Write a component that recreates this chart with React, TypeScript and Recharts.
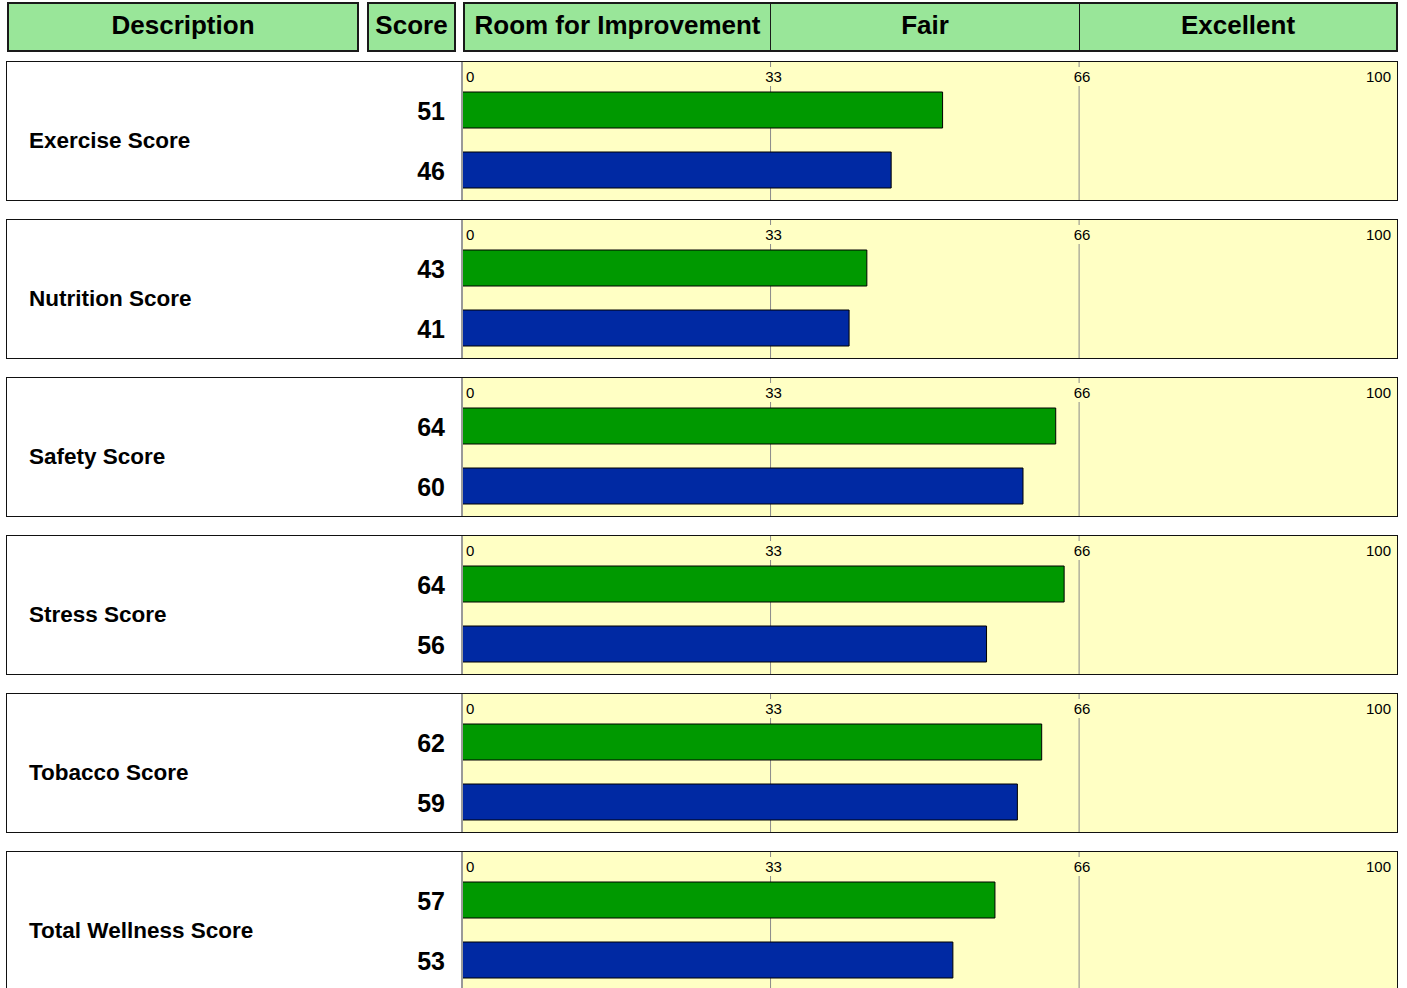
import { BarChart, Bar, XAxis, YAxis, Cell, CartesianGrid } from "recharts";

// panel rows
const CATEGORIES = [
  "Exercise Score",
  "Nutrition Score",
  "Safety Score",
  "Stress Score",
  "Tobacco Score",
  "Total Wellness Score",
];
// bar lengths
const GREEN_VALUES = [51.4, 43.3, 63.5, 64.4, 62.0, 57.0];
const BLUE_VALUES = [45.9, 41.4, 60.0, 56.1, 59.4, 52.5];
// printed scores
const GREEN_SCORES = ["51", "43", "64", "64", "62", "57"];
const BLUE_SCORES = ["46", "41", "60", "56", "59", "53"];

const X_TICKS = [0, 33, 66, 100];
const GRID_VALUES = [33, 66];
const BANDS = ["Room for Improvement", "Fair", "Excellent"];

const FONT = '"Liberation Sans", Arial, Helvetica, sans-serif';
const GREEN = "#009900";
const BLUE = "#0029a3";
const PLOT_BG = "#ffffc4";
const HEADER_BG = "#99e699";
const GRID = "#8a8a8a";

const CHART_W = 1390;
const CHART_H = 138;
const AXIS_W = 455;
const TOP_H = 18;
const PANEL_TOPS = [61, 219, 377, 535, 693, 851];

function TopTick(props: any) {
  const { x, payload } = props;
  const v = payload.value;
  let anchor = "middle";
  let tx = x + 3;
  if (v === 0) {
    anchor = "start";
    tx = x + 4;
  }
  if (v === 100) {
    anchor = "end";
    tx = x - 6;
  }
  return (
    <g>
      {v === 33 || v === 66 ? (
        <line x1={x} x2={x} y1={0} y2={5} stroke={GRID} />
      ) : null}
      {v === 0 ? (
        <line x1={x} x2={x} y1={0} y2={TOP_H} stroke="#999" strokeWidth={2} />
      ) : null}
      <text x={tx} y={20} textAnchor={anchor} fontSize={15} fontFamily={FONT} fill="#000">
        {v}
      </text>
    </g>
  );
}

function ScoreTick(props: any) {
  const { y, payload } = props;
  return (
    <text
      x={AXIS_W - 17}
      y={y}
      dy="0.4em"
      textAnchor="end"
      fontSize={25}
      fontWeight="bold"
      fontFamily={FONT}
      fill="#000"
    >
      {payload.value}
    </text>
  );
}

function gridLine(p: any) {
  return (
    <line
      key={`g-${p.index}-${p.x1}`}
      x1={p.x1}
      x2={p.x2}
      y1={p.y1 + 6}
      y2={p.y2}
      stroke={GRID}
      strokeWidth={1}
    />
  );
}

function Panel({ idx, top }: { idx: number; top: number }) {
  const data = [
    { name: "a", value: GREEN_VALUES[idx], score: GREEN_SCORES[idx], color: GREEN },
    { name: "b", value: BLUE_VALUES[idx], score: BLUE_SCORES[idx], color: BLUE },
  ];
  return (
    <div
      style={{
        position: "absolute",
        left: 6,
        top,
        width: CHART_W,
        height: CHART_H,
        border: "1px solid #111",
        background: "#fff",
      }}
    >
      <div
        style={{
          position: "absolute",
          left: AXIS_W,
          top: 0,
          width: CHART_W - AXIS_W,
          height: CHART_H,
          background: PLOT_BG,
        }}
      />
      <div
        style={{
          position: "absolute",
          left: 22,
          top: 79,
          transform: "translateY(-50%)",
          fontFamily: FONT,
          fontWeight: "bold",
          fontSize: 22.5,
          color: "#000",
          whiteSpace: "nowrap",
        }}
      >
        {CATEGORIES[idx]}
      </div>
      <div style={{ position: "absolute", left: 0, top: 0 }}>
        <BarChart
          width={CHART_W}
          height={CHART_H}
          data={data}
          layout="vertical"
          margin={{ top: 0, right: 0, bottom: 0, left: 0 }}
          barSize={36}
        >
          <CartesianGrid horizontal={false} verticalValues={GRID_VALUES} vertical={gridLine} />
          <XAxis
            type="number"
            orientation="top"
            domain={[0, 100]}
            ticks={X_TICKS}
            interval={0}
            height={TOP_H}
            axisLine={false}
            tickLine={false}
            tick={<TopTick />}
          />
          <YAxis
            type="category"
            dataKey="score"
            width={AXIS_W}
            axisLine={{ stroke: "#999", strokeWidth: 2 }}
            tickLine={false}
            tick={<ScoreTick />}
          />
          <Bar dataKey="value" stroke="#000" strokeWidth={1} isAnimationActive={false}>
            {data.map((d) => (
              <Cell key={d.name} fill={d.color} />
            ))}
          </Bar>
        </BarChart>
      </div>
    </div>
  );
}

const headerText = {
  fontFamily: FONT,
  fontWeight: "bold" as const,
  fontSize: 26,
  color: "#000",
  textAlign: "center" as const,
  lineHeight: "42px",
  whiteSpace: "nowrap" as const,
};

export default function App() {
  return (
    <div
      style={{
        position: "absolute",
        left: 0,
        top: 0,
        width: 1407,
        height: 988,
        overflow: "hidden",
        background: "#fff",
      }}
    >
      {/* header row */}
      <div
        style={{
          position: "absolute",
          left: 7,
          top: 2,
          width: 348,
          height: 46,
          border: "2px solid #1a1a1a",
          background: HEADER_BG,
          ...headerText,
        }}
      >
        Description
      </div>
      <div
        style={{
          position: "absolute",
          left: 367,
          top: 2,
          width: 85,
          height: 46,
          border: "2px solid #1a1a1a",
          background: HEADER_BG,
          ...headerText,
        }}
      >
        Score
      </div>
      <div
        style={{
          position: "absolute",
          left: 463,
          top: 2,
          width: 931,
          height: 46,
          border: "2px solid #1a1a1a",
          background: HEADER_BG,
        }}
      >
        <div style={{ position: "absolute", left: 0, top: 0, width: 305, height: 46, ...headerText }}>
          {BANDS[0]}
        </div>
        <div
          style={{
            position: "absolute",
            left: 305,
            top: 0,
            width: 308,
            height: 46,
            borderLeft: "1px solid #1a1a1a",
            ...headerText,
          }}
        >
          {BANDS[1]}
        </div>
        <div
          style={{
            position: "absolute",
            left: 614,
            top: 0,
            width: 316,
            height: 46,
            borderLeft: "1px solid #1a1a1a",
            ...headerText,
          }}
        >
          {BANDS[2]}
        </div>
      </div>

      {PANEL_TOPS.map((t, i) => (
        <Panel key={CATEGORIES[i]} idx={i} top={t} />
      ))}
    </div>
  );
}
